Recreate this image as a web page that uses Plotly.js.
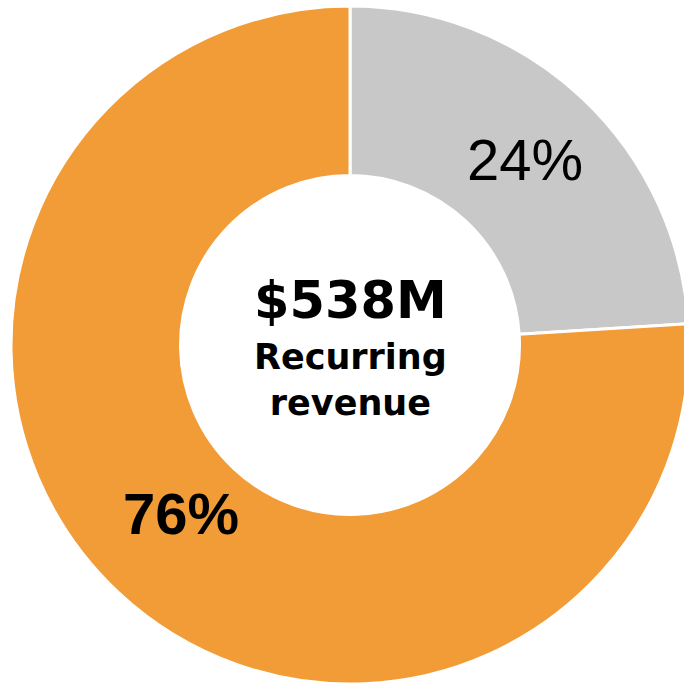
<!DOCTYPE html>
<html>
<head>
<meta charset="utf-8">
<script src="https://cdn.plot.ly/plotly-3.0.1.min.js"></script>
<style>
html,body{margin:0;padding:0;overflow:hidden;background:#fff;}
#chart{width:700px;height:686px;}
</style>
</head>
<body>
<div id="chart"></div>
<script>
const labels = ['Other revenue', 'Recurring revenue'];
const values = [24, 76];
const colors = ['#C8C8C8', '#F29C37'];
const centerValue = '$538M';
const centerLabel = 'Recurring<br>revenue';

const total = values.reduce((a, b) => a + b, 0);
const pctText = values.map(v => Math.round(v / total * 100) + '%');

const trace = {
  type: 'pie',
  labels: labels,
  values: values,
  hole: 0.5,
  sort: false,
  direction: 'clockwise',
  rotation: 0,
  textinfo: 'none',
  marker: {colors: colors, line: {color: '#FFFFFF', width: 3}},
  hoverinfo: 'skip'
};

const pctFont = {family: 'Liberation Sans, Arial, sans-serif', size: 58, color: '#000000'};

const layout = {
  width: 700,
  height: 686,
  margin: {l: 11, r: 11, t: 6, b: 2},
  showlegend: false,
  paper_bgcolor: '#FFFFFF',
  plot_bgcolor: '#FFFFFF',
  annotations: [
    {text: pctText[0], x: 0.758, y: 0.774, xref: 'paper', yref: 'paper', showarrow: false,
     xanchor: 'center', yanchor: 'middle', font: Object.assign({}, pctFont, {weight: 'normal'})},
    {text: pctText[1], x: 0.250, y: 0.252, xref: 'paper', yref: 'paper', showarrow: false,
     xanchor: 'center', yanchor: 'middle', font: Object.assign({}, pctFont, {weight: 'bold'})},
    {text: centerValue, x: 0.5, y: 0.565, xref: 'paper', yref: 'paper', showarrow: false,
     xanchor: 'center', yanchor: 'middle',
     font: {family: 'DejaVu Sans, sans-serif', size: 51, color: '#000', weight: 'bold'}},
    {text: centerLabel, x: 0.5, y: 0.449, xref: 'paper', yref: 'paper', showarrow: false,
     xanchor: 'center', yanchor: 'middle',
     font: {family: 'DejaVu Sans, sans-serif', size: 35, color: '#000', weight: 'bold'}}
  ]
};

Plotly.newPlot('chart', [trace], layout, {displayModeBar: false, staticPlot: true});
</script>
</body>
</html>
